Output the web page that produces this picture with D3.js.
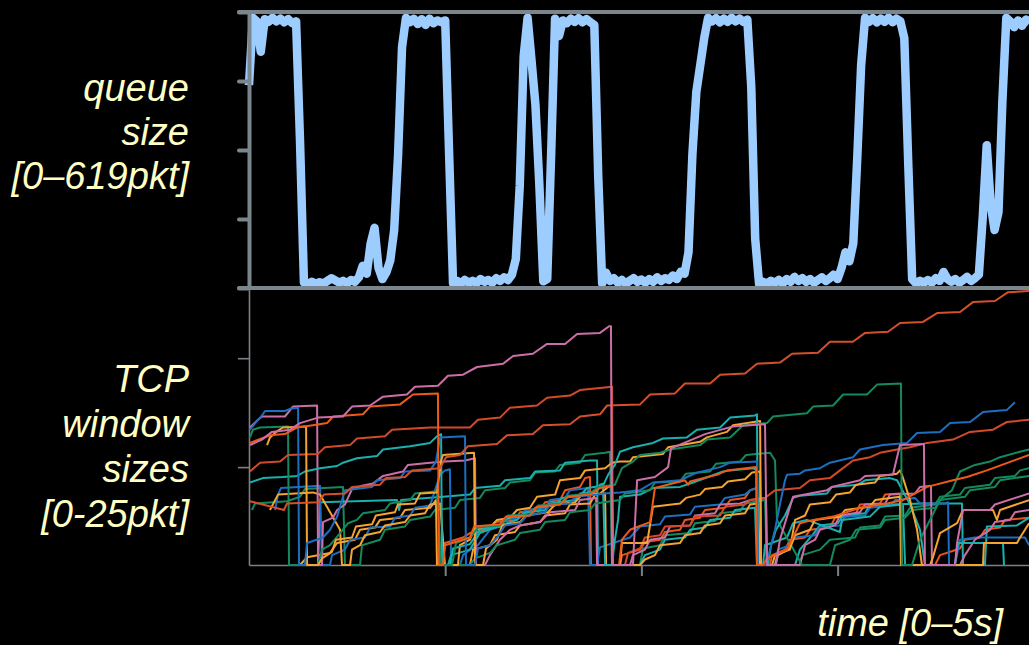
<!DOCTYPE html>
<html>
<head>
<meta charset="utf-8">
<script src="https://cdn.jsdelivr.net/npm/d3@7"></script>
<style>
  html, body { margin: 0; padding: 0; background: #000; }
  svg { display: block; }
</style>
</head>
<body>
<svg id="chart" width="1029" height="645"></svg>
<script>
// ---- data -------------------------------------------------------------
// Router queue occupancy (packets), sampled every 20 ms from t = 0.
const queueStep = 0.02;
const queueSize = [
  455, 606, 598, 530, 603, 597, 606, 598, 604, 596, 603, 594, 598, 330, 12,
  8, 14, 9, 13, 10, 16, 22, 17, 12, 16, 11, 18, 14, 24, 50,
  32, 100, 135, 45, 20, 35, 62, 130, 300, 540, 606,
  596, 604, 592, 603, 590, 604, 594, 600, 596, 600, 300, 10,
  16, 10, 18, 12, 16, 11, 20, 14, 18, 12, 22, 16, 24, 18, 30,
  65, 230, 520, 606, 510, 410, 230, 15, 20, 300, 604,
  565, 600, 594, 604, 597, 605, 596, 603, 596, 590, 250, 10,
  34, 16, 22, 12, 18, 10, 16, 22, 14, 19, 12, 20, 14, 24, 16, 22, 18, 28, 20, 36, 32,
  80, 300, 440, 500, 560, 606,
  598, 605, 596, 604, 597, 606, 598, 604, 597, 602, 450, 110, 8,
  14, 10, 16, 12, 18, 10, 20, 14, 25, 16, 22, 14, 20, 12, 18, 24, 16, 22, 30, 20, 45, 80, 60, 100,
  290, 500, 606,
  597, 605, 596, 604, 597, 606, 596, 604, 598, 560, 280, 20,
  10, 16, 12, 18, 12, 22, 16, 36, 20, 14, 20, 12, 18, 25, 16, 22, 30,
  160, 320, 190, 130, 170, 420, 606,
  598, 585, 600, 588, 602, 596
];
const queueTicks = [0, 154.75, 309.5, 464.25, 619];

// Congestion windows (packets) of the individual TCP flows, as [time s, window].
const pinkTop = [[.005,10.9],[.066,11.4],[.117,12.1],[.209,12.3],[.260,12.9],[.352,13.4],[.479,13.5],[.525,14.4],[.617,14.5],[.683,15.3],[.805,15.5],[.846,16.2],[.963,16.3],[1.014,17.2],[1.091,17.3],[1.162,18.0],[1.295,18.3],[1.346,19.0],[1.447,19.2],[1.519,20.1],[1.611,20.1],[1.672,21.0],[1.789,21.1],[1.835,21.7],[1.845,21.7],[1.850,0],[1.957,0],[1.978,7.7],[2.069,8.0],[2.136,8.9],[2.151,10.6],[2.324,11.9],[2.467,12.6],[2.630,12.8],[2.640,0],[2.686,0],[2.706,2.3],[2.737,4.1],[2.773,6.2],[2.946,6.8],[2.971,7.1],[3.114,7.7],[3.140,8.1],[3.282,8.2],[3.318,10.9],[3.440,11.0],[3.445,0],[3.598,0],[3.609,2.0],[3.639,5.0],[3.777,5.0],[3.802,5.5],[3.976,6.5]];
const redTop = [[.005,5.8],[.178,5.0],[.194,5.6],[.352,5.7],[.382,6.4],[.489,6.5],[.525,7.1],[.668,7.3],[.698,7.9],[.795,8.0],[.831,8.6],[.973,8.8],[1.004,9.8],[1.075,10.0],[1.116,10.8],[1.264,11.0],[1.315,11.8],[1.447,11.9],[1.498,12.7],[1.636,12.8],[1.687,13.5],[1.789,13.7],[1.825,14.5],[1.993,14.6],[2.044,15.5],[2.171,15.6],[2.222,16.5],[2.350,16.5],[2.401,17.3],[2.528,17.4],[2.589,18.3],[2.706,18.4],[2.768,19.2],[2.900,19.3],[2.961,20.3],[3.078,20.3],[3.140,21.1],[3.257,21.2],[3.318,22.0],[3.435,22.1],[3.507,22.9],[3.624,23.0],[3.690,23.9],[3.802,24.0],[3.869,24.8],[3.976,24.9]];
const redA = [[.005,11.1],[.107,11.8],[.183,11.9],[.245,12.5],[.326,12.7],[.398,12.9],[.428,13.5],[.581,13.7],[.617,14.4],[.770,14.6],[.836,15.5],[.963,15.6],[.968,0],[.989,0],[.999,1.8],[1.126,2.5],[1.147,3.5],[1.279,3.7],[1.310,4.4],[1.432,4.5],[1.468,5.3],[1.585,5.5],[1.626,6.2],[1.738,6.4],[1.789,7.0],[1.850,7.2],[1.855,0],[1.886,0],[1.901,2.3],[1.942,3.2],[2.044,3.9],[2.069,7.0],[2.222,7.7],[2.238,7.3],[2.248,7.6],[2.385,8.2],[2.436,8.6],[2.584,8.9],[2.589,0],[2.620,0],[2.640,.6],[2.742,1.4],[2.808,3.8],[2.875,4.1],[2.977,4.4],[3.114,5.2],[3.252,5.6],[3.333,5.9],[3.456,7.1],[3.588,7.7],[3.659,8.0],[3.761,8.6],[3.976,10.0]];
const blueA = [[.005,12.3],[.046,13.2],[.066,13.6],[.082,14.0],[.183,14.0],[.209,14.2],[.250,14.3],[.255,0],[.285,0],[.296,2.0],[.377,2.5],[.413,3.2],[.449,4.4],[.464,5.3],[.489,6.8],[.627,7.1],[.652,7.7],[.770,7.9],[.795,8.5],[.923,8.6],[.953,9.4],[.974,11.6],[1.101,11.7],[1.106,0],[1.152,0],[1.167,1.5],[1.228,1.8],[1.264,2.5],[1.305,3.6],[1.381,3.8],[1.417,4.5],[1.509,4.8],[1.534,5.5],[1.636,5.6],[1.662,6.2],[1.774,6.4],[1.804,6.5],[1.891,6.6],[1.993,6.8],[2.059,7.5],[2.197,7.7],[2.232,8.0],[2.283,8.4],[2.401,8.9],[2.452,9.3],[2.589,9.4],[2.594,0],[2.635,0],[2.656,1.4],[2.681,3.2],[2.706,5.5],[2.732,7.7],[2.742,8.2],[2.808,8.3],[2.834,8.6],[2.910,8.8],[2.961,9.3],[3.079,9.8],[3.114,10.5],[3.231,10.9],[3.354,11.1],[3.405,12.0],[3.522,12.1],[3.573,12.9],[3.675,13.0],[3.741,13.9],[3.863,14.1],[3.904,14.8]];
const greenBig = [[.979,0],[1.035,0],[1.055,2.0],[1.126,2.5],[1.167,3.4],[1.279,3.6],[1.320,4.5],[1.432,4.6],[1.473,5.4],[1.585,5.5],[1.626,6.3],[1.738,6.5],[1.779,7.1],[1.865,7.3],[1.901,8.8],[1.957,9.4],[1.993,10.0],[2.095,10.2],[2.146,10.5],[2.299,10.9],[2.334,11.4],[2.452,11.6],[2.518,12.7],[2.640,12.9],[2.671,13.5],[2.844,13.8],[2.875,14.4],[2.977,14.5],[3.028,15.5],[3.150,15.5],[3.201,16.4],[3.323,16.5],[3.328,0],[3.379,0],[3.420,2.3],[3.471,4.1],[3.522,5.9],[3.583,6.8],[3.624,8.5],[3.700,9.1],[3.777,9.4],[3.828,9.8],[3.930,10.3],[3.976,10.5]];
const orangeA = [[.092,10.9],[.107,11.6],[.138,12.1],[.173,12.5],[.291,12.6],[.296,0],[.352,0],[.372,.6],[.423,1.2],[.443,2.3],[.525,2.5],[.545,3.5],[.627,3.7],[.647,4.5],[.744,4.8],[.759,5.5],[.846,5.6],[.872,6.5],[.958,6.6],[.979,9.5],[.989,10.0],[1.147,10.2],[1.152,0],[1.193,0],[1.208,1.5],[1.264,2.3],[1.290,3.6],[1.381,3.9],[1.412,4.5],[1.524,4.8],[1.560,5.5],[1.662,5.7],[1.697,6.4],[1.789,6.5],[1.830,7.1],[1.850,7.2],[1.855,0],[1.891,0],[1.901,2.0],[2.029,2.0],[2.059,5.3],[2.197,5.6],[2.227,6.1],[2.299,6.4],[2.324,6.9],[2.411,7.1],[2.441,7.6],[2.528,7.8],[2.564,8.4],[2.605,8.5],[2.610,0],[2.666,0],[2.681,.9],[2.757,1.4],[2.783,4.1],[2.834,4.5],[2.859,5.5],[2.961,5.7],[2.992,6.4],[3.063,6.6],[3.094,7.3],[3.191,7.5],[3.216,8.1],[3.303,8.3],[3.318,8.6],[3.328,8.2],[3.369,5.9],[3.405,3.2],[3.430,0],[3.471,0],[3.486,.7],[3.522,2.9],[3.609,3.8],[3.639,5.0],[3.792,5.0],[3.812,4.1],[3.828,5.0],[3.976,5.9]];
const tealTop = [[.984,0],[1.024,0],[1.040,1.5],[1.126,1.9],[1.177,3.2],[1.279,3.5],[1.315,4.3],[1.432,4.5],[1.458,5.2],[1.560,5.4],[1.595,6.1],[1.687,6.3],[1.723,7.0],[1.804,7.2],[1.830,8.2],[1.865,9.1],[1.891,10.3],[1.957,10.7],[2.059,11.1],[2.110,11.5],[2.232,11.6],[2.283,12.3],[2.401,12.5],[2.452,13.4],[2.579,13.6],[2.589,13.7],[2.594,0],[2.645,0],[2.661,1.8],[2.686,3.2],[2.732,4.5],[2.773,6.1],[2.808,6.3],[2.946,6.5],[2.971,7.1],[3.104,7.3],[3.140,7.7],[3.267,7.9],[3.303,7.7],[3.369,5.5],[3.420,3.2],[3.445,0],[3.522,0]];
const orangeC = [[1.019,0],[1.065,0],[1.075,1.8],[1.126,2.3],[1.147,3.2],[1.228,3.4],[1.264,4.1],[1.330,4.3],[1.366,5.0],[1.432,5.2],[1.468,6.2],[1.560,6.4],[1.585,7.7],[1.687,7.9],[1.713,8.6],[1.815,8.8],[1.850,9.3],[1.891,9.4],[1.942,9.4],[1.957,9.8],[2.110,10.1],[2.136,10.7],[2.299,11.2],[2.334,11.6],[2.436,12.1],[2.467,12.7],[2.605,13.1],[2.610,0],[2.681,0],[2.696,.9],[2.757,1.5],[2.783,2.7],[2.859,3.2],[2.885,4.1],[3.012,4.4],[3.038,5.0],[3.165,5.3],[3.191,5.9],[3.318,6.2],[3.323,0],[3.741,0],[3.746,2.0],[3.914,2.0],[3.930,2.5],[3.976,3.8]];
const redB = [[.005,8.5],[.056,9.3],[.158,9.4],[.199,10.0],[.352,10.1],[.387,10.7],[.515,10.9],[.550,11.5],[.693,11.7],[.729,12.3],[.923,12.5],[1.126,12.5],[1.167,13.2],[1.279,13.4],[1.330,14.3],[1.468,14.5],[1.519,15.2],[1.636,15.4],[1.687,15.9],[1.789,16.1],[1.850,16.2],[1.855,0],[1.916,0],[1.932,1.1],[1.993,1.5],[2.018,2.5],[2.095,2.7],[2.120,3.5],[2.248,3.6],[2.273,4.4],[2.401,4.5],[2.426,5.3],[2.528,5.5],[2.554,5.9],[2.630,6.1],[2.681,6.8],[2.808,7.0],[2.859,7.7],[2.961,7.9],[3.012,8.6],[3.079,9.5],[3.165,9.8],[3.216,10.2],[3.303,10.5],[3.369,10.7],[3.456,11.1],[3.588,11.4],[3.675,12.1],[3.792,12.3],[3.863,13.0],[3.976,13.2]];
const greenA = [[.005,11.6],[.020,12.3],[.056,12.5],[.199,12.6],[.204,0],[.352,0],[.372,1.4],[.413,1.8],[.464,2.9],[.505,3.8],[.550,4.1],[.581,4.7],[.693,5.0],[.719,5.6],[.821,5.9],[.846,6.5],[.958,6.7],[.979,0],[1.126,0],[1.152,.6],[1.228,1.1],[1.264,1.8],[1.356,2.3],[1.381,2.9],[1.483,3.2],[1.509,3.9],[1.611,4.1],[1.636,4.8],[1.738,5.0],[1.764,5.6],[1.891,5.9],[1.916,6.5],[2.044,6.8],[2.069,7.5],[2.197,7.6],[2.227,8.3],[2.350,8.5],[2.380,9.2],[2.503,9.4],[2.533,10.0],[2.656,10.2],[2.681,9.5],[2.691,4.1],[2.819,0],[2.961,0],[2.987,1.8],[3.063,2.3],[3.094,3.2],[3.216,3.4],[3.242,4.1],[3.344,4.3],[3.379,5.0],[3.497,5.2],[3.522,5.9],[3.649,6.2],[3.675,6.8],[3.802,7.1],[3.828,7.7],[3.976,8.1]];
const tealA = [[.005,7.5],[.071,7.9],[.173,8.0],[.245,8.1],[.285,8.5],[.362,8.8],[.449,9.0],[.479,9.3],[.550,9.7],[.652,9.9],[.683,10.5],[.821,10.8],[.923,11.1],[.958,11.7],[.979,11.9],[.984,0],[1.014,0],[1.030,.9],[1.126,1.4],[1.177,2.9],[1.264,3.5],[1.366,4.1],[1.397,4.7],[1.509,5.0],[1.534,5.6],[1.662,5.9],[1.687,6.5],[1.774,6.7],[1.789,7.3],[1.804,7.4],[1.815,0],[1.850,0],[1.865,2.3],[1.881,4.1],[1.891,6.2],[1.993,6.4],[2.059,7.0],[2.197,7.1],[2.263,7.5],[2.416,8.5],[2.452,8.6],[2.569,8.8],[2.589,8.6],[2.594,0],[2.620,0],[2.630,1.8],[2.742,2.5],[2.773,3.8],[2.844,4.1],[3.012,3.0],[3.022,4.1],[3.165,4.4],[3.216,5.3],[3.333,5.5],[3.344,0],[3.598,0],[3.614,2.0],[3.843,2.0],[3.848,0]];
const pinkA = [[.005,12.5],[.046,13.2],[.066,13.5],[.183,13.5],[.224,14.4],[.347,14.5],[.352,0],[.372,0],[.377,3.9],[.428,4.3],[.449,5.0],[.489,5.5],[.525,6.9],[.576,7.2],[.632,7.4],[.683,8.1],[.785,8.5],[.810,9.1],[.923,9.3],[.999,9.4],[1.101,9.5],[1.152,9.7],[1.157,0],[1.203,0],[1.228,.9],[1.279,2.3],[1.330,3.2],[1.381,3.6],[1.483,3.9],[1.534,4.8],[1.662,5.0],[1.687,5.9],[1.769,6.1],[1.774,0],[1.942,0],[1.957,.9],[2.018,1.4],[2.044,2.3],[2.120,2.5],[2.146,3.5],[2.248,3.6],[2.273,4.5],[2.375,4.7],[2.401,5.5],[2.503,5.6],[2.554,5.9],[2.635,6.1],[2.640,0],[2.808,0],[2.834,1.8],[2.885,2.3],[2.910,3.2],[2.987,3.6],[3.012,4.5],[3.114,4.8],[3.140,5.5],[3.242,5.6],[3.267,6.4],[3.394,6.5],[3.420,7.1],[3.476,7.2],[3.481,0],[3.624,0],[3.649,.9],[3.700,2.3],[3.777,3.2],[3.802,3.9],[3.879,4.1],[3.904,4.8],[3.976,5.0]];
const greenB = [[.015,5.0],[.031,5.6],[.194,5.8],[.260,6.2],[.285,6.9],[.479,7.1],[.489,0],[.566,0],[.576,1.8],[.668,2.3],[.693,3.2],[.795,3.5],[.821,4.1],[.923,4.4],[.948,5.0],[1.050,5.2],[1.075,5.9],[1.177,6.1],[1.203,6.8],[1.305,7.0],[1.330,7.5],[1.432,7.7],[1.458,8.4],[1.560,8.5],[1.585,9.1],[1.687,9.3],[1.713,10.0],[1.815,10.2],[1.840,10.3],[1.850,0],[1.993,0],[2.008,1.5],[2.095,1.8],[2.120,2.7],[2.248,2.9],[2.273,3.8],[2.375,4.0],[2.401,4.7],[2.503,4.9],[2.528,5.6],[2.630,5.9],[2.640,0],[2.808,0],[2.819,.9],[2.910,1.4],[2.961,2.3],[3.089,2.5],[3.114,3.4],[3.216,3.6],[3.242,4.4],[3.344,4.5],[3.369,5.2],[3.497,5.5],[3.522,6.2],[3.624,6.4],[3.649,7.0],[3.777,7.3],[3.802,7.9],[3.904,8.1],[3.930,8.6],[3.976,8.8]];
const orangeD = [[.107,5.0],[.133,5.9],[.148,6.4],[.326,6.6],[.362,6.4],[.464,3.2],[.474,0],[.515,0],[.525,1.4],[.566,1.8],[.591,2.7],[.668,3.0],[.693,3.6],[.795,3.9],[.821,4.5],[.897,4.7],[.923,5.5],[.974,5.6],[.999,0],[1.126,0],[1.142,1.4],[1.228,1.8],[1.254,2.7],[1.356,3.0],[1.381,3.6],[1.483,3.9],[1.509,4.5],[1.611,4.7],[1.636,5.5],[1.738,5.6],[1.764,6.4],[1.815,6.5],[1.820,0],[1.993,0],[2.018,.5],[2.069,.9],[2.095,1.8],[2.197,2.0],[2.222,2.7],[2.299,2.9],[2.324,3.6],[2.401,3.8],[2.426,4.5],[2.528,4.7],[2.554,5.5],[2.594,5.6],[2.605,0]];
const blueB = [[.133,5.0],[.148,6.4],[.163,7.0],[.362,7.2],[.372,0],[.413,0],[.423,.9],[.489,1.4],[.515,2.3],[.591,2.5],[.617,3.4],[.719,3.5],[.744,4.3],[.821,4.5],[.846,5.2],[.923,5.4],[.948,6.8],[.974,8.2],[.999,8.6],[1.024,8.7],[1.030,0],[1.075,0],[1.091,.9],[1.126,1.4],[1.167,1.8],[1.228,3.2],[1.279,3.5],[1.305,4.1],[1.381,4.3],[1.407,5.0],[1.509,5.2],[1.534,5.9],[1.611,6.1],[1.636,6.8],[1.728,7.0],[1.738,0],[1.774,0],[1.789,1.6],[1.942,2.5],[1.993,3.5],[2.095,3.7],[2.120,4.4],[2.248,4.6],[2.273,5.3],[2.401,5.5],[2.426,6.1],[2.528,6.4],[2.554,6.8],[2.589,7.0],[2.594,0],[2.681,0],[2.696,1.4],[2.757,1.8],[2.783,2.5],[2.885,2.7],[2.910,3.5],[3.012,3.6],[3.038,4.4],[3.140,4.5],[3.165,5.2],[3.267,5.4],[3.293,5.9],[3.394,6.1],[3.420,5.6],[3.548,5.6],[3.563,5.7],[3.568,0],[3.598,0],[3.624,2.3],[3.700,2.5],[3.955,2.5],[3.976,1.8]];
const tealC = [[.352,0],[.357,2.3],[.362,5.7],[.754,5.9],[.765,5.0],[.775,5.9],[.989,6.2],[1.126,6.4],[1.152,7.0],[1.279,7.2],[1.305,7.7],[1.432,7.9],[1.458,8.5],[1.585,8.6],[1.611,9.3],[1.738,9.5],[1.774,9.5],[1.779,0],[1.993,0],[2.018,.9],[2.095,1.4],[2.120,2.3],[2.222,2.5],[2.248,3.2],[2.324,3.4],[2.350,4.1],[2.452,4.3],[2.477,5.0],[2.579,5.2],[2.589,0],[2.783,0],[2.808,1.4],[2.870,2.7],[2.910,3.6],[3.002,3.8],[3.028,4.5],[3.140,4.7],[3.165,5.5],[3.267,5.5],[3.435,5.6],[3.634,5.6],[3.639,0],[3.751,0],[3.761,3.5],[3.914,3.6],[3.976,4.3]];
const redC = [[.989,0],[.999,2.0],[1.091,2.5],[1.126,2.9],[1.228,3.2],[1.254,3.9],[1.356,4.1],[1.381,4.8],[1.483,5.0],[1.509,5.7],[1.585,5.9],[1.611,6.8],[1.687,7.1],[1.713,7.9],[1.738,8.0],[1.743,0],[1.891,0],[1.901,.9],[1.993,1.4],[2.018,2.1],[2.095,2.3],[2.120,3.0],[2.197,3.2],[2.222,4.1],[2.299,4.3],[2.324,5.0],[2.426,5.2],[2.452,5.9],[2.528,6.1],[2.554,6.8],[2.589,7.0],[2.594,0],[2.655,0],[2.666,.9],[2.732,1.4],[2.757,2.3],[2.834,2.5],[2.859,3.2],[2.961,3.4],[2.987,4.3],[3.089,4.5],[3.114,5.5],[3.216,5.6],[3.242,6.4],[3.318,6.5],[3.328,0],[3.497,0],[3.522,.9],[3.624,1.5],[3.649,2.3],[3.726,2.5],[3.751,3.2],[3.828,3.4],[3.853,4.1],[3.976,4.3]];
const orangeE = [[.260,0],[.296,.7],[.413,1.1],[.449,2.0],[.540,2.3],[.566,3.2],[.642,3.4],[.668,4.1],[.770,4.3],[.795,5.0],[.923,5.2],[.953,5.9],[.958,0]];

const windowTicks = [8.9, 18.8];
const timeTicks = [1, 2, 3, 4];

const flowColor = {
  pink: "#cc6ea8", brick: "#d4502b", vermillion: "#ee5a18", rust: "#d24a2a",
  redOrange: "#e8561e", blue: "#1c6fc0", green: "#15895c", teal: "#19b0ae", orange: "#f5a332"
};
const flows = [
  { values: greenB, color: flowColor.green },
  { values: orangeE, color: flowColor.orange },
  { values: redC, color: flowColor.redOrange },
  { values: tealC, color: flowColor.teal },
  { values: blueB, color: flowColor.blue },
  { values: orangeD, color: flowColor.orange },
  { values: pinkA, color: flowColor.pink },
  { values: tealA, color: flowColor.teal },
  { values: greenA, color: flowColor.green },
  { values: redB, color: flowColor.rust },
  { values: orangeC, color: flowColor.orange },
  { values: tealTop, color: flowColor.teal },
  { values: orangeA, color: flowColor.orange },
  { values: greenBig, color: flowColor.green },
  { values: blueA, color: flowColor.blue },
  { values: redA, color: flowColor.vermillion },
  { values: redTop, color: flowColor.brick },
  { values: pinkTop, color: flowColor.pink }
];

// ---- layout -----------------------------------------------------------
const width = 1029;
const svg = d3.select("#chart");
const frameGrey = "#7b858c";
const axisGrey = "#7a8186";
const labelColor = "#ffffc4";
const labelFont = "'Liberation Sans', Arial, Helvetica, sans-serif";

const x = d3.scaleLinear().domain([0, 5]).range([249, 1230]);
const yQueue = d3.scaleLinear().domain([0, 619]).range([288, 12]);
const yWin = d3.scaleLinear().domain([0, 25]).range([565, 290]);

// ---- queue panel ------------------------------------------------------
const queueLine = d3.line()
  .x((q, i) => x(i * queueStep))
  .y(q => yQueue(q));

svg.append("path")
  .datum(queueSize)
  .attr("d", queueLine)
  .attr("fill", "none")
  .attr("stroke", "#9dcdff")
  .attr("stroke-width", 8.5)
  .attr("stroke-linejoin", "round");

const queueAxis = svg.append("g")
  .attr("transform", `translate(${x(0)},0)`)
  .call(d3.axisLeft(yQueue).tickValues(queueTicks).tickSize(10).tickSizeOuter(0).tickFormat(""));
queueAxis.selectAll("path, line")
  .attr("stroke", frameGrey)
  .attr("stroke-width", 4)
  .attr("stroke-linecap", "round");

[619, 0].forEach(v => {
  svg.append("line")
    .attr("x1", x(0) - 10).attr("x2", width + 5)
    .attr("y1", yQueue(v)).attr("y2", yQueue(v))
    .attr("stroke", frameGrey)
    .attr("stroke-width", 4)
    .attr("stroke-linecap", "round");
});

// ---- window panel -----------------------------------------------------
const winAxis = svg.append("g")
  .attr("transform", `translate(${x(0)},0)`)
  .call(d3.axisLeft(yWin).tickValues(windowTicks).tickSize(11).tickSizeOuter(0).tickFormat(""));
const timeAxis = svg.append("g")
  .attr("transform", `translate(0,${yWin(0)})`)
  .call(d3.axisBottom(x).tickValues(timeTicks).tickSize(11).tickSizeOuter(0).tickFormat(""));
[winAxis, timeAxis].forEach(g => {
  g.selectAll("path, line").attr("stroke", axisGrey).attr("stroke-width", 1.6);
});
timeAxis.selectAll(".tick line").attr("stroke-width", 2);

const winLine = d3.line()
  .x(d => x(d[0]))
  .y(d => yWin(d[1]));

svg.append("g")
  .selectAll("path")
  .data(flows)
  .join("path")
  .attr("d", f => winLine(f.values))
  .attr("fill", "none")
  .attr("stroke", f => f.color)
  .attr("stroke-width", 2)
  .attr("stroke-linejoin", "round");

// ---- labels -----------------------------------------------------------
const labels = svg.append("g")
  .attr("font-family", labelFont)
  .attr("font-style", "italic")
  .attr("font-size", 38)
  .attr("fill", labelColor)
  .attr("text-anchor", "end");

const leftLabels = [
  { text: "queue", y: 101 },
  { text: "size", y: 145 },
  { text: "[0\u2013619pkt]", y: 189 },
  { text: "TCP", y: 392 },
  { text: "window", y: 437 },
  { text: "sizes", y: 482 },
  { text: "[0-25pkt]", y: 527 }
];
labels.selectAll("text.side")
  .data(leftLabels)
  .join("text")
  .attr("class", "side")
  .attr("x", 189)
  .attr("y", d => d.y)
  .text(d => d.text);

labels.append("text")
  .attr("x", 1003)
  .attr("y", 636)
  .text("time [0\u20135s]");
</script>
</body>
</html>
